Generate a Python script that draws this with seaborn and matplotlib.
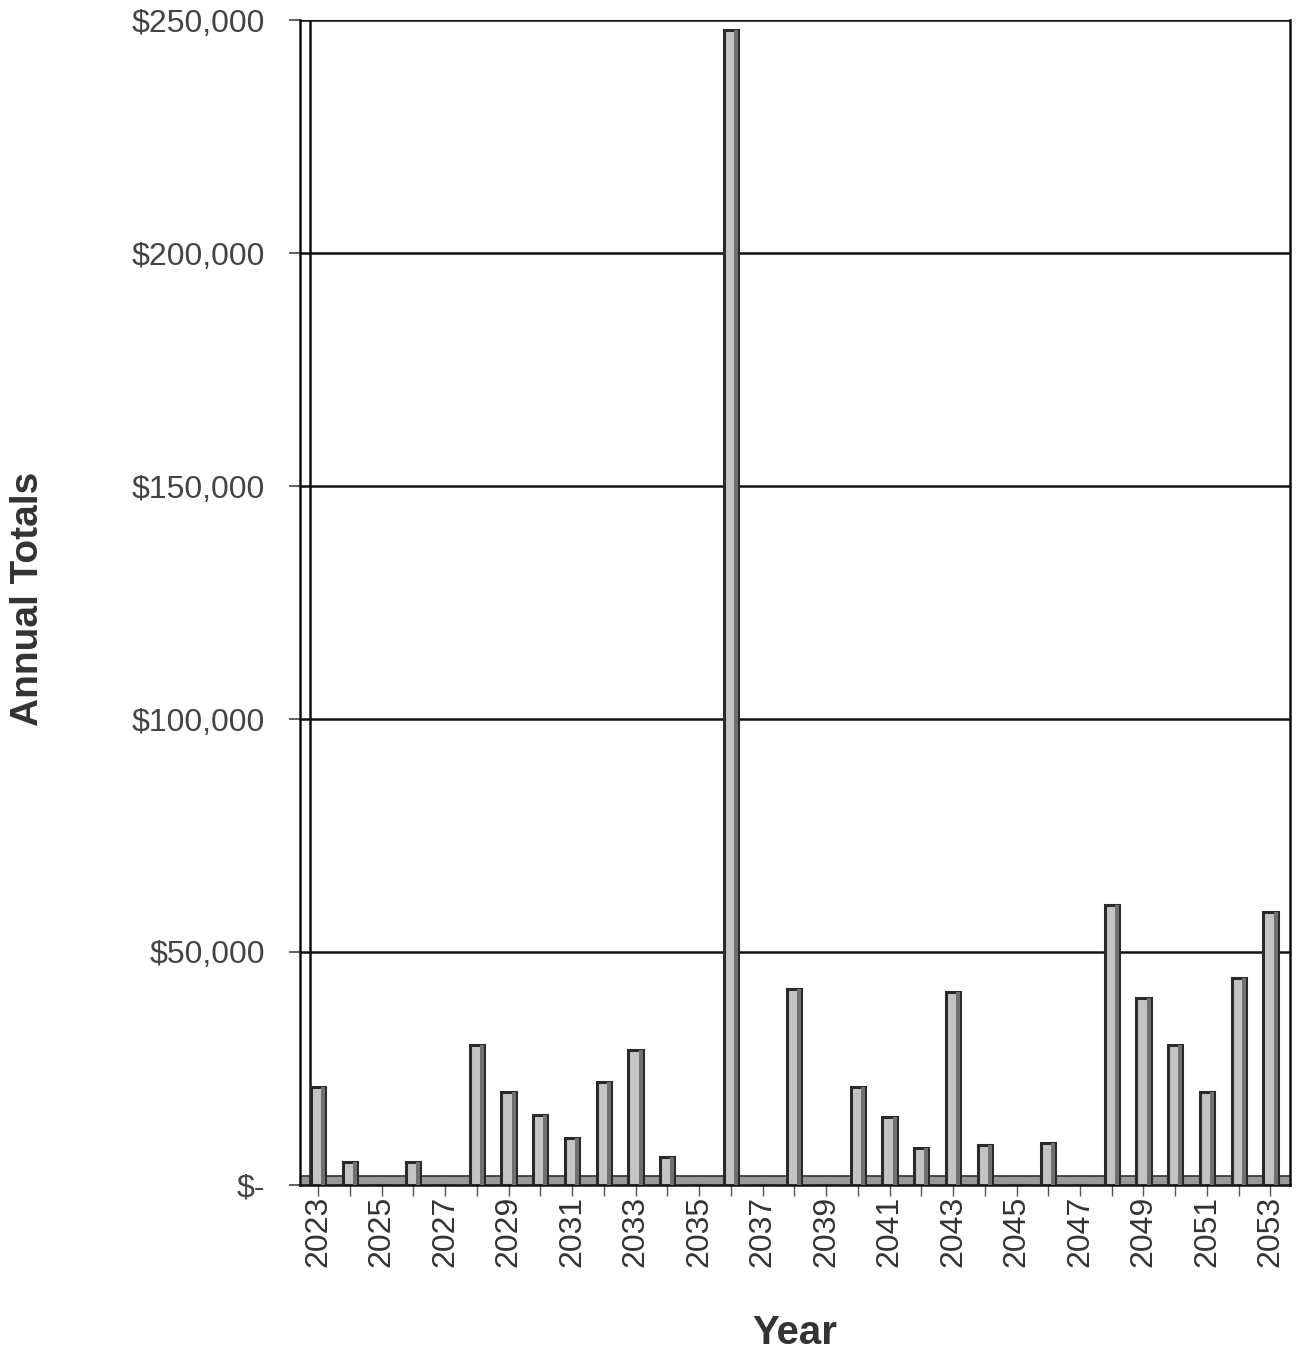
import matplotlib
matplotlib.use("Agg")
import matplotlib.pyplot as plt
import seaborn as sns
import pandas as pd
from matplotlib.ticker import FuncFormatter

years = list(range(2023, 2054))
totals = [21000, 5000, 0, 5000, 0, 30000, 20000, 15000, 10000, 22000, 29000,
          6000, 0, 248000, 0, 42000, 0, 21000, 14500, 8000, 41500, 8500,
          0, 9000, 0, 60000, 40000, 30000, 20000, 44500, 58500]
y_ticks = [0, 50000, 100000, 150000, 200000, 250000]

df = pd.DataFrame({"Year": [str(y) for y in years], "Total": totals})

sns.set_theme(style="white")
plt.rcParams["font.family"] = ["Liberation Sans", "DejaVu Sans"]

fig = plt.figure(figsize=(12.96, 13.51), dpi=100)
ax = fig.add_axes([0.2315, 0.123, 0.7635, 0.862])

sns.barplot(data=df, x="Year", y="Total", ax=ax, color="#c4c4c4",
            saturation=1, width=0.45, edgecolor="#2a2a2a", linewidth=2.2,
            zorder=3)

# shaded right-hand face for a raised-bar look
for patch in ax.patches:
    h = patch.get_height()
    if h > 0:
        x0 = patch.get_x() + patch.get_width() * 0.72
        ax.add_patch(plt.Rectangle((x0, 0), patch.get_width() * 0.28, h,
                                   facecolor="#707070", edgecolor="none",
                                   zorder=3.5))

ax.set_ylim(0, 250000)
ax.set_xlim(-0.57, 30.6)
ax.set_yticks(y_ticks)
ax.yaxis.set_major_formatter(FuncFormatter(
    lambda v, p: "$-" if v == 0 else f"${v:,.0f}"))
ax.yaxis.grid(True, color="#111111", linewidth=1.8, zorder=1)
ax.xaxis.grid(False)

# floor strip
ax.axhspan(0, 1800, color="#9a9a9a", zorder=2)
ax.axhline(1800, color="#333333", linewidth=1.2, zorder=2.1)

# back wall edge
ax.axvline(-0.26, color="#111111", linewidth=1.8, zorder=2)

ax.set_xticks(range(len(years)))
ax.set_xticklabels([str(y) if i % 2 == 0 else "" for i, y in enumerate(years)],
                   rotation=90, fontsize=23, color="#333333")
ax.tick_params(axis="x", length=8, width=1, color="#555555", bottom=True,
               pad=0)
ax.tick_params(axis="y", labelsize=23, colors="#444444", length=8,
               width=1.2, left=True, pad=17)

for side in ["left", "right", "bottom"]:
    ax.spines[side].set_color("#111111")
    ax.spines[side].set_linewidth(1.8)
ax.spines["top"].set_visible(False)

ax.set_xlabel("Year", fontsize=29, fontweight="bold", color="#333333")
ax.xaxis.set_label_coords(0.5, -0.111)
ax.set_ylabel("Annual Totals", fontsize=28, fontweight="bold",
              color="#333333")
ax.yaxis.set_label_coords(-0.257, 0.503)

fig.savefig("out.png", dpi=100, facecolor="white")
